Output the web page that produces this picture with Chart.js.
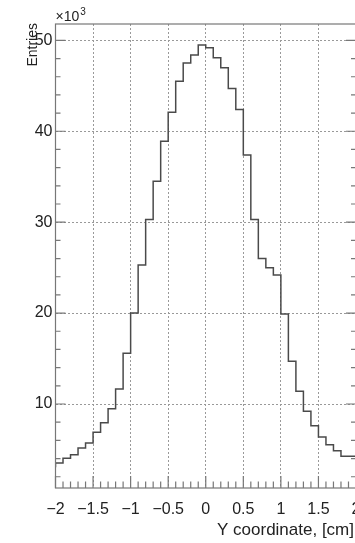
<!DOCTYPE html>
<html>
<head>
<meta charset="utf-8">
<script src="https://cdn.jsdelivr.net/npm/chart.js@4/dist/chart.umd.min.js"></script>
<style>
  html, body { margin: 0; padding: 0; background: #fff; overflow: hidden; }
  canvas { display: block; }
</style>
</head>
<body>
<canvas id="myChart" width="360" height="543"></canvas>
<script>
// bin entries (x10^3), 40 bins of width 0.1 cm from -2 to 2
const binStart = -2;
const binWidth = 0.1;
const entries = [
  3.03, 3.51, 4.02, 4.42, 5.16, 5.71, 6.88, 7.94, 9.48, 11.65,
  15.57, 20.0, 25.3, 30.3, 34.5, 38.9, 42.1, 45.5, 47.5, 48.4,
  49.5, 49.2, 48.1, 47.0, 44.7, 42.4, 37.4, 30.3, 26.0, 25.0,
  24.2, 19.9, 14.7, 11.4, 9.19, 7.61, 6.37, 5.52, 4.86, 4.24
];
const xTicks = [-2, -1.5, -1, -0.5, 0, 0.5, 1, 1.5, 2];
const yTicks = [10, 20, 30, 40, 50];
const xTitle = 'Y coordinate, [cm]';
const yTitle = 'Entries';

// step points: left edge of each bin, plus closing right edge
const points = entries.map((v, i) => ({ x: binStart + i * binWidth, y: v }));
points.push({ x: binStart + entries.length * binWidth, y: entries[entries.length - 1] });

const fmt = v => (v < 0 ? '\u2212' + Math.abs(v) : String(v));
const font = 'Liberation Sans, Arial, Helvetica, sans-serif';

// frame, inner ticks and axis titles, ROOT style
const frame = {
    id: 'frame',
    afterDraw(chart) {
        const { ctx, chartArea: a, scales: { x, y } } = chart;
        ctx.save();
        ctx.strokeStyle = '#777';
        ctx.lineWidth = 1.2;
        ctx.strokeRect(a.left, a.top, a.right - a.left, a.bottom - a.top);

        ctx.beginPath();
        for (let i = 0; i <= 40; i++) {
            const px = x.getPixelForValue(-2 + i * 0.1);
            const len = i % 5 === 0 ? 12 : 6.5;
            ctx.moveTo(px, a.bottom);
            ctx.lineTo(px, a.bottom - len);
        }
        for (let v = 2; v < 52; v += 2) {
            const py = y.getPixelForValue(v);
            const len = v % 10 === 0 ? 10 : 5;
            ctx.moveTo(a.left, py);
            ctx.lineTo(a.left + len, py);
            ctx.moveTo(a.right, py);
            ctx.lineTo(a.right - len, py);
        }
        ctx.stroke();

        ctx.fillStyle = '#222';
        ctx.font = '14px ' + font;
        ctx.textBaseline = 'alphabetic';
        ctx.textAlign = 'left';
        ctx.fillText('\u00d710', a.left, 21);
        const w = ctx.measureText('\u00d710').width;
        ctx.font = '10px ' + font;
        ctx.fillText('3', a.left + w + 1, 15);

        ctx.font = '17px ' + font;
        ctx.textAlign = 'right';
        ctx.fillText(xTitle, 354, 535);

        ctx.translate(37, 23);
        ctx.rotate(-Math.PI / 2);
        ctx.font = '14px ' + font;
        ctx.textAlign = 'right';
        ctx.fillText(yTitle, 0, 0);
        ctx.restore();
    }
};

new Chart(document.getElementById('myChart'), {
    type: 'line',
    data: {
        datasets: [{
            data: points,
            stepped: 'after',
            borderColor: '#4a4a4a',
            borderWidth: 1.5,
            pointRadius: 0,
            fill: false,
        }],
    },
    options: {
        responsive: false,
        animation: false,
        events: [],
        layout: { padding: { top: 24, right: 4, left: 0, bottom: 0 } },
        plugins: { legend: { display: false }, tooltip: { enabled: false } },
        scales: {
            x: {
                type: 'linear',
                min: -2,
                max: 2,
                afterBuildTicks: s => { s.ticks = xTicks.map(v => ({ value: v })); },
                afterFit: s => { s.height = 55; s.paddingLeft = 0; s.paddingRight = 0; },
                grid: { color: '#999', drawTicks: false, lineWidth: 1 },
                border: { display: false, dash: [2, 2] },
                ticks: {
                    autoSkip: false,
                    maxRotation: 0,
                    padding: 12,
                    color: '#222',
                    font: { family: font, size: 16 },
                    callback: fmt,
                },
            },
            y: {
                min: 0.76,
                max: 51.8,
                afterBuildTicks: s => { s.ticks = yTicks.map(v => ({ value: v })); },
                afterFit: s => { s.width = 55.5; s.paddingTop = 0; s.paddingBottom = 0; },
                grid: { color: '#999', drawTicks: false, lineWidth: 1 },
                border: { display: false, dash: [2, 2] },
                ticks: {
                    padding: 3,
                    color: '#222',
                    font: { family: font, size: 16 },
                    callback: fmt,
                },
            },
        },
    },
    plugins: [frame],
});
</script>
</body>
</html>
